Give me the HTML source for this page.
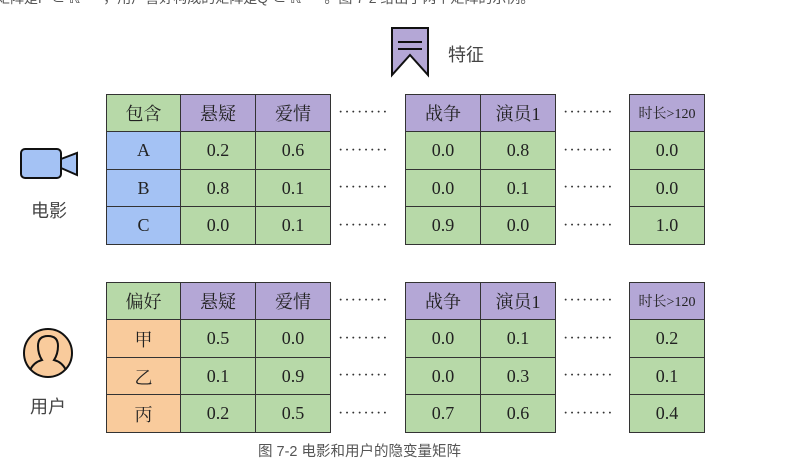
<!DOCTYPE html>
<html><head><meta charset="utf-8"><style>
body{margin:0;width:805px;height:474px;background:#fff;position:relative;overflow:hidden;font-family:"Liberation Serif","Noto Serif CJK SC",serif;}
.c{position:absolute;box-sizing:border-box;border:1px solid #333;display:flex;align-items:center;justify-content:center;font-size:18px;color:#222;}
.d{position:absolute;font-size:16px;line-height:16px;color:#333;letter-spacing:1px;}
.t{position:absolute;font-family:"Liberation Sans","Noto Sans CJK SC",sans-serif;color:#444;}
</style></head><body>
<div class="t" style="left:-4px;top:-12px;font-size:14px;color:#555;">矩阵是P ∈ ℝ&nbsp;&nbsp;&nbsp;&nbsp;&nbsp;&nbsp;，用户喜好构成的矩阵是Q ∈ ℝ&nbsp;&nbsp;&nbsp;&nbsp;&nbsp;&nbsp;。图 7-2 给出了两个矩阵的示例。</div>
<svg style="position:absolute;left:0;top:0" width="805" height="474">
<g><path d="M392,28 L428,28 L428,75 L410,55 L392,75 Z" fill="#b4a7d6" stroke="#111" stroke-width="2"/><line x1="398" y1="42" x2="422" y2="42" stroke="#111" stroke-width="2"/><line x1="398" y1="49" x2="422" y2="49" stroke="#111" stroke-width="2"/></g>
<g><rect x="21" y="149" width="40" height="29" rx="4" fill="#a4c2f4" stroke="#111" stroke-width="2"/><path d="M61,159 L77,153 L77,175 L61,168 Z" fill="#a4c2f4" stroke="#111" stroke-width="2"/></g>
<g><circle cx="48" cy="353" r="24" fill="#f9cb9c" stroke="#111" stroke-width="2"/><path d="M30,370 Q34,362 42,360 Q38,354 38,346 Q38,336 48,336 Q58,336 58,346 Q58,354 54,360 Q62,362 66,370" fill="none" stroke="#111" stroke-width="2"/></g>
</svg>
<div class="t" style="left:448px;top:41px;font-size:18px;">特征</div>
<div class="t" style="left:31px;top:197px;font-size:18px;">电影</div>
<div class="t" style="left:30px;top:393px;font-size:18px;">用户</div>
<div class="t" style="left:258px;top:440px;font-size:14.5px;color:#555;">图 7-2 电影和用户的隐变量矩阵</div>
<script>
const headers=["悬疑","爱情","战争","演员1","时长>120"];
const movieRows=["A","B","C"];
const movieVals=[["0.2","0.6","0.0","0.8","0.0"],["0.8","0.1","0.0","0.1","0.0"],["0.0","0.1","0.9","0.0","1.0"]];
const userRows=["甲","乙","丙"];
const userVals=[["0.5","0.0","0.0","0.1","0.2"],["0.1","0.9","0.0","0.3","0.1"],["0.2","0.5","0.7","0.6","0.4"]];
const colX=[180,255,405,480,629];
function cell(x,y,w,h,txt,bg,name,fs){const d=document.createElement('div');d.className='c';


d.style.cssText=`left:${x}px;top:${y}px;width:${w+1}px;height:${h+1}px;background:${bg};`+(fs?`font-size:${fs}px;`:'');d.textContent=txt;document.body.appendChild(d);}
function table(top,corner,rows,vals,rowBg,prefix){
const rh=37.5;
cell(106,top,74,37,corner,'#b7d9a8',prefix+'-corner-cell');
headers.forEach((h,i)=>cell(colX[i],top,75,37,h,'#b4a7d6',prefix+'-header-'+i,i==4?14:18));
rows.forEach((r,j)=>{const y=Math.round(top+37+j*rh);
cell(106,y,74,Math.round(rh),r,rowBg,prefix+'-row-label-'+j);
vals[j].forEach((v,i)=>cell(colX[i],y,75,Math.round(rh),v,'#b7d9a8',prefix+'-cell-'+j+'-'+i));});
for(let j=0;j<4;j++){const y=top+18+j*rh-7;[338,563].forEach((x,k)=>{const d=document.createElement('div');d.className='d';


d.style.cssText=`left:${x}px;top:${y}px;`;d.textContent='········';document.body.appendChild(d);});}
}
table(94,'包含',movieRows,movieVals,'#a4c2f4','movie');
table(282,'偏好',userRows,userVals,'#f9cb9c','user');
</script>
</body></html>
